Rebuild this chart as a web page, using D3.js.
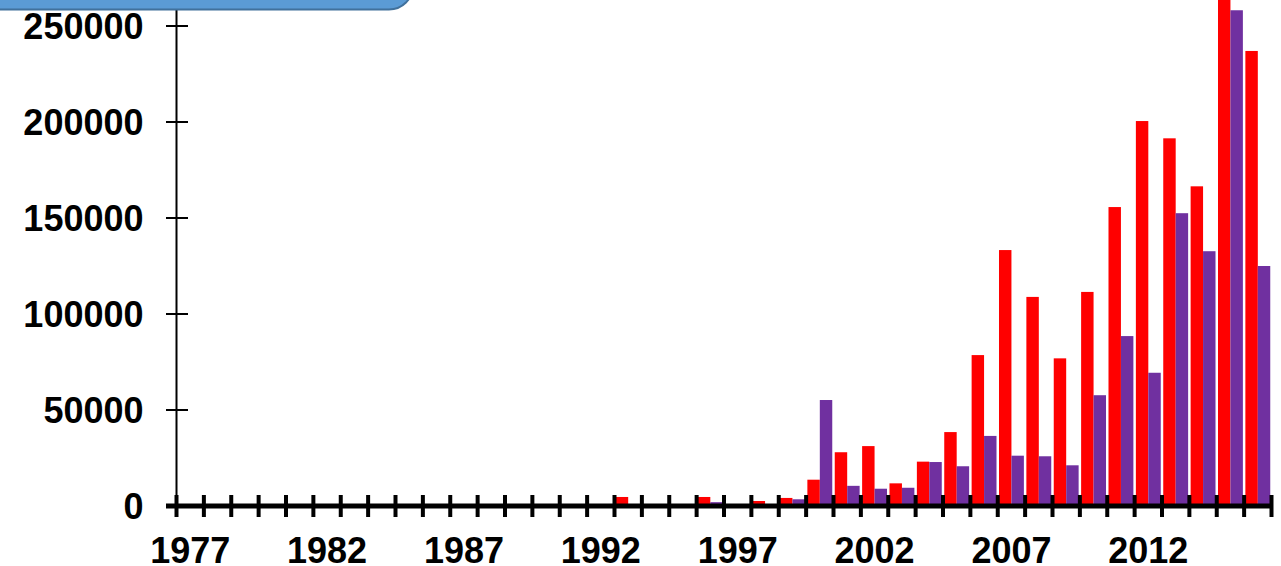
<!DOCTYPE html>
<html>
<head>
<meta charset="utf-8">
<script src="https://cdn.jsdelivr.net/npm/d3@7"></script>
<style>
  html, body { margin: 0; padding: 0; background: #fff; }
  svg { display: block; }
  .lbl { font-family: "Liberation Sans", Arial, sans-serif; font-weight: bold; font-size: 36px; fill: #000; }
</style>
</head>
<body>
<svg id="chart" width="1281" height="566"></svg>
<script>
// Years on the category axis
const years = d3.range(1977, 2017);

// First series (red), one value per year 1977–2016
const redValues = [
  0, 0, 0, 0, 0, 0, 0, 0, 0, 0,
  0, 0, 0, 0, 0, 0, 4700, 0, 1000, 4700,
  1000, 2600, 4200, 13700, 28000, 31200, 11800, 23100, 38500, 78600,
  133300, 108900, 76900, 111500, 155700, 200500, 191500, 166500, 270000, 237000
];

// Second series (purple), one value per year 1977–2016
const purpleValues = [
  0, 0, 0, 0, 0, 0, 0, 0, 0, 0,
  0, 0, 0, 0, 0, 0, 0, 0, 0, 2000,
  0, 0, 3500, 55200, 10500, 9000, 9500, 22900, 20700, 36500,
  26200, 25900, 21200, 57700, 88500, 69400, 152500, 132700, 258200, 125000
];

// Axis labels
const yTickValues = [0, 50000, 100000, 150000, 200000, 250000];
const xLabelYears = [1977, 1982, 1987, 1992, 1997, 2002, 2007, 2012];

const seriesNames = ["red", "purple"];
const seriesColors = ["#ff0000", "#7030a0"];

const svg = d3.select("#chart");

const x = d3.scaleBand().domain(years).range([176.5, 1271.5]).padding(0);
const y = d3.scaleLinear().domain([0, 250000]).range([506, 26]);

// sub-band for the two bars inside each year
const inner = d3.scaleBand().domain(seriesNames)
  .range([0, x.bandwidth()]).paddingInner(0).paddingOuter(0.1);

const rows = years.map((yr, i) => ({ year: yr, red: redValues[i], purple: purpleValues[i] }));

const plot = svg.append("g");

// Bars
seriesNames.forEach((name, si) => {
  plot.selectAll("rect." + name)
    .data(rows.filter(d => d[name] > 0))
    .join("rect")
    .attr("class", name)
    .attr("x", d => x(d.year) + inner(name))
    .attr("width", inner.bandwidth())
    .attr("y", d => y(d[name]))
    .attr("height", d => y(0) - y(d[name]))
    .attr("fill", seriesColors[si]);
});

// Y axis: thin line with crossing ticks
const yAxis = svg.append("g");
yAxis.append("line")
  .attr("x1", x.range()[0]).attr("x2", x.range()[0])
  .attr("y1", 0).attr("y2", y(0))
  .attr("stroke", "#000").attr("stroke-width", 2);
yAxis.selectAll("line.ytick")
  .data(yTickValues)
  .join("line")
  .attr("class", "ytick")
  .attr("x1", 166).attr("x2", 188)
  .attr("y1", d => y(d)).attr("y2", d => y(d))
  .attr("stroke", "#000").attr("stroke-width", 2);
yAxis.selectAll("text")
  .data(yTickValues)
  .join("text")
  .attr("class", "lbl")
  .attr("text-anchor", "end")
  .attr("x", 143.5)
  .attr("y", d => y(d) + 13)
  .text(d => d3.format("d")(d));

// X axis: heavy line with crossing ticks at band boundaries
const xAxis = svg.append("g");
xAxis.append("line")
  .attr("x1", 166).attr("x2", x.range()[1] + 1)
  .attr("y1", y(0)).attr("y2", y(0))
  .attr("stroke", "#000").attr("stroke-width", 5);
const boundaries = years.map(yr => x(yr)).concat([x.range()[1]]);
xAxis.selectAll("line.xtick")
  .data(boundaries)
  .join("line")
  .attr("class", "xtick")
  .attr("x1", d => d).attr("x2", d => d)
  .attr("y1", 495).attr("y2", 517)
  .attr("stroke", "#000").attr("stroke-width", 4);
xAxis.selectAll("text")
  .data(xLabelYears)
  .join("text")
  .attr("class", "lbl")
  .attr("text-anchor", "middle")
  .attr("x", d => x(d) + x.bandwidth() / 2)
  .attr("y", 563)
  .text(d => d);

// Title banner at the top-left corner
svg.append("rect")
  .attr("x", -30).attr("y", -40)
  .attr("width", 443).attr("height", 49.5)
  .attr("rx", 24).attr("ry", 24)
  .attr("fill", "#5b9bd5")
  .attr("stroke", "#41719c").attr("stroke-width", 2);
</script>
</body>
</html>
